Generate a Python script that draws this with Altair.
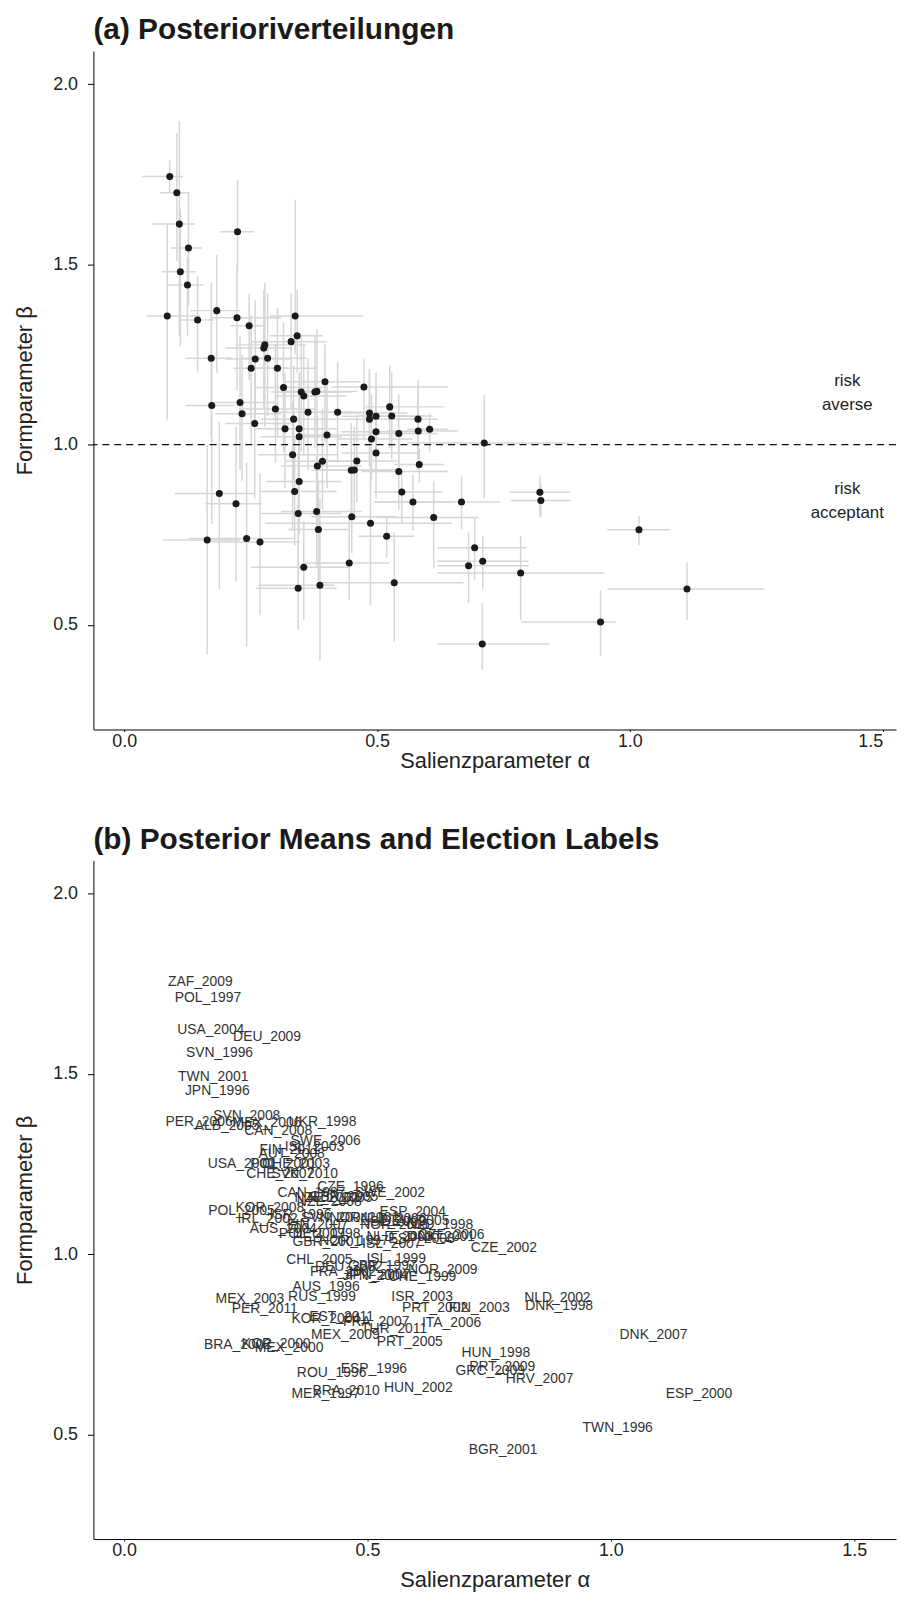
import altair as alt
import pandas as pd

labels = ["ZAF_2009","POL_1997","USA_2004","SVN_1996","TWN_2001","JPN_1996","PER_2006","ALB_2005",
          "SVN_2008","MEX_2006","DEU_2009","CAN_2008","UKR_1998","SWE_2006","ISL_2003","FIN_2011",
          "AUT_2008","USA_2000","POL_2001","CHE_2003","CHE_2007","SVK_2010","CZE_1996","SWE_2002",
          "CAN_1997","NZL_2002","NZL_2008","NZL_2005","GBR_2005","POL_2005","KOR_2008","IRL_2002",
          "ISR_1996","AUS_2004","SVN_2004","FIN_2007","NOR_2001","NLD_2006","NOR_2005","ISL_2009",
          "ESP_2004","DEU_2005","NLD_1998","CZE_2006","DNK_2001","ESP_2008","NLD_2003","ISL_2007",
          "POL_2007","DEU_1998","GBR_2001","NOR_1997","CHL_2005","ISL_1999","FRA_2002","DEU_2002",
          "GBR_1997","JPN_2004","JPN_2007","CHE_1999","NOR_2009","AUS_1996","RUS_1999","ISR_2003",
          "PRT_2002","MEX_2003","PER_2011","KOR_2004","EST_2011","FRA_2007","TUR_2011","ITA_2006",
          "MEX_2009","CZE_2002","NLD_2002","DNK_1998","FIN_2003","HUN_1998","PRT_2009","GRC_2009",
          "HRV_2007","PRT_2005","ESP_1996","HUN_2002","ROU_1996","BRA_2010","MEX_1997","DNK_2007",
          "ESP_2000","TWN_1996","BGR_2001","BRA_2002","KOR_2000","MEX_2000"]

alpha = [0.090,0.104,0.109,0.127,0.111,0.125,0.085,0.145,
         0.183,0.223,0.224,0.247,0.338,0.342,0.330,0.278,
         0.276,0.172,0.259,0.2835,0.251,0.303,0.397,0.474,
         0.315,0.350,0.355,0.377,0.381,0.173,0.229,0.233,
         0.299,0.258,0.3635,0.335,0.422,0.485,0.485,0.498,
         0.525,0.529,0.581,0.604,0.5815,0.543,0.498,0.489,
         0.318,0.346,0.346,0.401,0.333,0.498,0.382,0.392,
         0.460,0.449,0.455,0.543,0.5835,0.346,0.337,0.549,
         0.571,0.188,0.221,0.344,0.3805,0.450,0.487,0.612,
         0.384,0.712,0.822,0.824,0.667,0.693,0.709,0.681,
         0.784,0.519,0.445,0.534,0.355,0.387,0.344,1.018,
         1.113,0.942,0.708,0.164,0.242,0.2685]

beta = [1.744,1.699,1.612,1.546,1.480,1.443,1.357,1.346,
        1.372,1.352,1.591,1.330,1.357,1.302,1.286,1.277,
        1.268,1.240,1.238,1.240,1.212,1.212,1.175,1.160,
        1.159,1.146,1.135,1.146,1.148,1.109,1.117,1.086,
        1.099,1.059,1.090,1.071,1.090,1.088,1.071,1.079,
        1.105,1.080,1.071,1.043,1.038,1.031,1.036,1.016,
        1.044,1.044,1.022,1.027,0.972,0.977,0.941,0.954,
        0.955,0.929,0.930,0.926,0.945,0.898,0.870,0.869,
        0.841,0.865,0.836,0.809,0.815,0.800,0.782,0.798,
        0.765,1.005,0.868,0.845,0.841,0.714,0.677,0.664,
        0.644,0.746,0.672,0.617,0.660,0.610,0.602,0.764,
        0.600,0.508,0.447,0.736,0.740,0.730]

alpha_lo = [0.035,0.071,0.054,0.092,0.075,0.086,0.044,0.108,
            0.131,0.170,0.190,0.210,0.288,0.288,0.250,0.220,
            0.200,0.121,0.200,0.230,0.216,0.240,0.318,0.409,
            0.260,0.290,0.300,0.310,0.320,0.121,0.170,0.180,
            0.230,0.200,0.300,0.270,0.350,0.420,0.410,0.430,
            0.475,0.460,0.534,0.560,0.520,0.480,0.430,0.420,
            0.260,0.280,0.270,0.340,0.265,0.430,0.310,0.320,
            0.390,0.370,0.380,0.470,0.534,0.280,0.270,0.494,
            0.494,0.100,0.160,0.270,0.310,0.370,0.278,0.500,
            0.324,0.560,0.762,0.764,0.495,0.619,0.619,0.619,
            0.619,0.463,0.357,0.390,0.251,0.265,0.260,0.955,
            0.956,0.786,0.619,0.077,0.128,0.173]

alpha_hi = [0.116,0.129,0.139,0.154,0.141,0.156,0.150,0.177,
            0.229,0.310,0.257,0.280,0.473,0.393,0.400,0.360,
            0.330,0.213,0.330,0.360,0.324,0.380,0.468,0.640,
            0.400,0.430,0.440,0.450,0.460,0.219,0.300,0.310,
            0.380,0.330,0.450,0.410,0.500,0.560,0.570,0.580,
            0.632,0.610,0.620,0.640,0.660,0.620,0.580,0.570,
            0.390,0.420,0.430,0.480,0.422,0.580,0.470,0.470,
            0.540,0.530,0.540,0.640,0.632,0.430,0.420,0.629,
            0.645,0.259,0.272,0.430,0.470,0.540,0.648,0.700,
            0.445,0.880,0.882,0.883,0.743,0.796,0.800,0.800,
            0.950,0.573,0.524,0.671,0.445,0.416,0.420,1.080,
            1.267,0.972,0.842,0.229,0.337,0.347]

beta_lo = [1.700,1.510,1.300,1.385,1.274,1.300,1.070,1.200,
           1.200,1.150,1.484,1.180,1.250,1.200,1.100,1.050,
           1.100,1.020,1.060,1.080,1.000,1.020,1.008,1.017,
           0.980,0.980,0.970,0.990,1.000,0.780,0.930,0.900,
           0.950,0.850,0.930,0.900,0.950,0.960,0.940,0.950,
           0.990,0.960,0.960,0.981,0.930,0.920,0.920,0.900,
           0.880,0.900,0.880,0.880,0.760,0.850,0.800,0.820,
           0.840,0.800,0.810,0.820,0.894,0.750,0.720,0.784,
           0.761,0.600,0.620,0.620,0.660,0.698,0.555,0.657,
           0.620,0.852,0.800,0.798,0.766,0.624,0.600,0.561,
           0.514,0.688,0.569,0.454,0.514,0.400,0.486,0.722,
           0.514,0.413,0.376,0.418,0.440,0.527]

beta_hi = [1.790,1.865,1.898,1.700,1.654,1.520,1.615,1.468,
           1.527,1.500,1.734,1.418,1.680,1.430,1.420,1.450,
           1.430,1.450,1.400,1.420,1.360,1.380,1.278,1.237,
           1.340,1.300,1.280,1.300,1.320,1.250,1.300,1.250,
           1.280,1.200,1.240,1.220,1.230,1.210,1.200,1.200,
           1.220,1.200,1.180,1.086,1.150,1.140,1.160,1.140,
           1.200,1.200,1.170,1.170,1.120,1.100,1.080,1.100,
           1.080,1.060,1.050,1.040,0.990,1.050,1.020,0.926,
           0.917,1.063,1.050,0.980,0.970,0.930,0.950,0.900,
           0.900,1.137,0.912,0.890,0.912,0.798,0.747,0.756,
           0.747,0.800,0.800,0.756,0.788,0.850,0.742,0.802,
           0.674,0.596,0.560,1.000,0.950,0.920]

risk_x = [1.43, 1.43]
risk_y = [1.177, 0.877]
risk_text = ["risk\naverse", "risk\nacceptant"]

df = pd.DataFrame({"label": labels, "alpha": alpha, "beta": beta,
                   "alo": alpha_lo, "ahi": alpha_hi, "blo": beta_lo, "bhi": beta_hi})
df_ref = pd.DataFrame({"y": [1.0]})
df_risk = pd.DataFrame({"x": risk_x, "y": risk_y, "t": risk_text})

FONT = "Liberation Sans"
W = 808
H = 683

y_scale = alt.Scale(domain=[0.21, 2.092], nice=False, zero=False)
x_scale_a = alt.Scale(domain=[-0.061, -0.061 + W / 509.0], nice=False, zero=False)
x_scale_b = alt.Scale(domain=[-0.063, -0.063 + W / 490.0], nice=False, zero=False)

def x_axis(flush, tpad):
    return alt.Axis(values=[0.0, 0.5, 1.0, 1.5], format=".1f", title="Salienzparameter α",
                    labelFlush=flush, titlePadding=tpad)

def y_axis():
    return alt.Axis(values=[0.5, 1.0, 1.5, 2.0], format=".1f", title="Formparameter β")

bar_color = "#d6d6d6"

hbar = alt.Chart(df).mark_rule(color=bar_color, strokeWidth=1.5).encode(
    x=alt.X("alo:Q", scale=x_scale_a, axis=x_axis(15, 0)),
    x2="ahi:Q",
    y=alt.Y("beta:Q", scale=y_scale, axis=y_axis()),
)
vbar = alt.Chart(df).mark_rule(color=bar_color, strokeWidth=1.5).encode(
    x=alt.X("alpha:Q", scale=x_scale_a),
    y=alt.Y("blo:Q", scale=y_scale),
    y2="bhi:Q",
)
dash = alt.Chart(df_ref).mark_rule(color="#111111", strokeWidth=1.3, strokeDash=[7, 5]).encode(
    y=alt.Y("y:Q", scale=y_scale)
)
pts = alt.Chart(df).mark_circle(size=50, color="#1a1a1a", opacity=1).encode(
    x=alt.X("alpha:Q", scale=x_scale_a),
    y=alt.Y("beta:Q", scale=y_scale),
)
risk = alt.Chart(df_risk).mark_text(fontSize=17, font=FONT, color="#222222", lineBreak="\n",
                                     lineHeight=24, align="center", baseline="middle").encode(
    x=alt.X("x:Q", scale=x_scale_a),
    y=alt.Y("y:Q", scale=y_scale),
    text="t:N",
)

top = alt.layer(hbar, vbar, dash, pts, risk).properties(
    width=W, height=H,
    title=alt.TitleParams("(a) Posterioriverteilungen", anchor="start", frame="group",
                          fontSize=30, fontWeight="bold", font=FONT, color="#1a1a1a", offset=6),
)

txt = alt.Chart(df).mark_text(fontSize=14, font=FONT, color="#333333", align="left",
                               baseline="alphabetic").encode(
    x=alt.X("alpha:Q", scale=x_scale_b, axis=x_axis(False, 10)),
    y=alt.Y("beta:Q", scale=y_scale, axis=y_axis()),
    text="label:N",
)

bottom = alt.layer(txt).properties(
    width=W, height=H,
    title=alt.TitleParams("(b) Posterior Means and Election Labels", anchor="start", frame="group",
                          fontSize=30, fontWeight="bold", font=FONT, color="#1a1a1a", offset=6),
)

chart = alt.vconcat(top, bottom, spacing=54).properties(
    padding={"left": 5, "top": 2, "right": 0, "bottom": 5}
).configure_view(stroke=None).configure_axis(
    grid=False, domainColor="#000000", tickColor="#000000", domainWidth=1, tickWidth=1,
    labelFontSize=18, labelFont=FONT, labelColor="#222222",
    titleFontSize=22, titleFont=FONT, titleFontWeight="normal", titleColor="#222222",
).configure_axisY(titlePadding=16, tickSize=6, labelPadding=10).configure_axisX(
    tickSize=2, labelPadding=1)

chart.save("out.html", embed_options={"renderer": "svg", "actions": False})
